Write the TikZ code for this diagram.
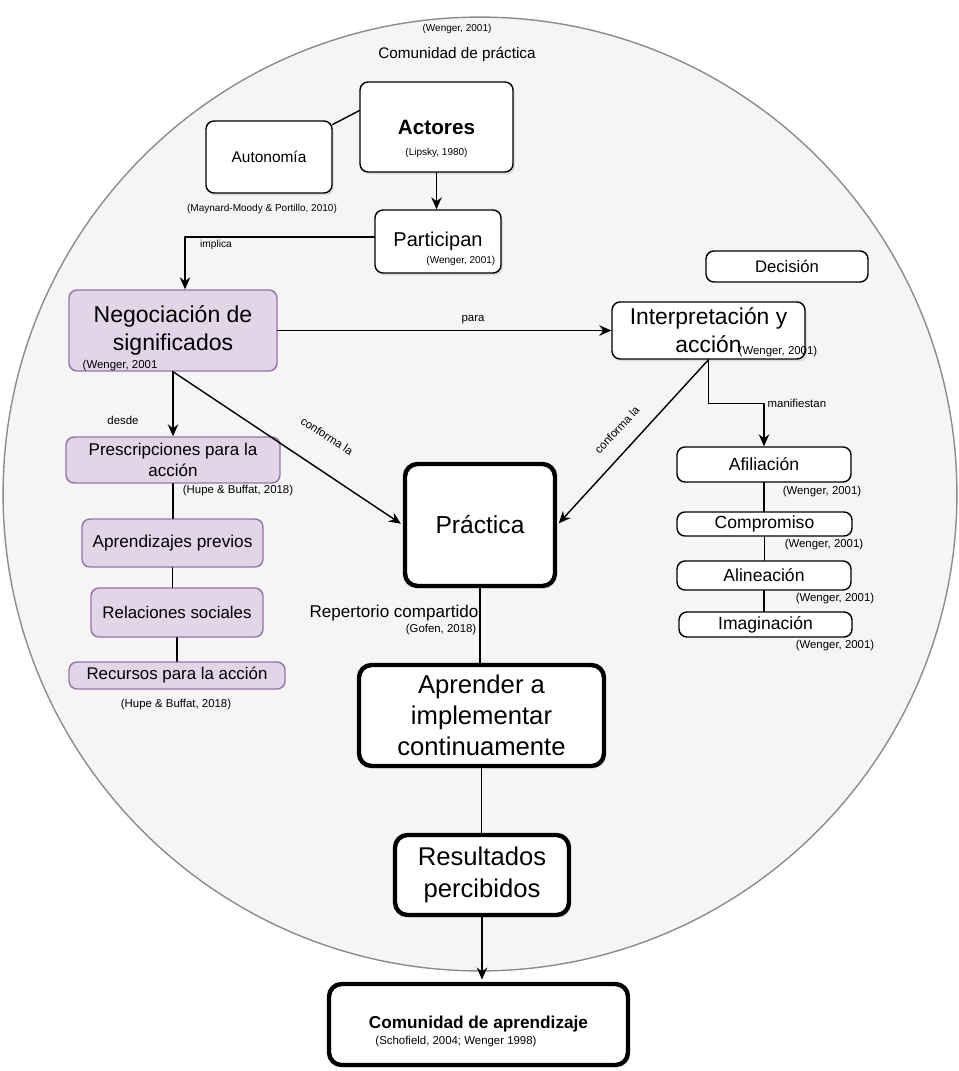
\documentclass[tikz,border=0pt]{standalone}
\usepackage{fontspec}
\setmainfont{Liberation Sans}
\usetikzlibrary{arrows.meta,shadows}
\definecolor{fondo}{HTML}{F5F5F5}
\definecolor{borde}{HTML}{8C8C8C}
\definecolor{filllila}{HTML}{E1D5E7}
\definecolor{bordelila}{HTML}{9673A6}

\begin{document}
\begin{tikzpicture}[x=0.02cm, y=-0.02cm, line cap=round, line join=round,
  >={Stealth[length=2.4mm,width=2.1mm]}, line width=0.8pt,
  box/.style={draw, rounded corners=0.16cm, fill=white, align=center, inner sep=1pt},
  shbox/.style={box, drop shadow={opacity=0.2, shadow xshift=0.04cm, shadow yshift=-0.05cm}},
  pbox/.style={box, draw=bordelila, fill=filllila},
  tbox/.style={shbox, line width=2.5pt, rounded corners=0.25cm},
  cite/.style={font=\fontsize{6.5}{8}\selectfont, inner sep=0pt},
  smallcite/.style={font=\fontsize{5.7}{7}\selectfont, inner sep=0pt},
  lbl/.style={font=\fontsize{6.5}{8}\selectfont, inner sep=0pt}]
  \useasboundingbox (0,0) rectangle (958,1071);
  % comunidad de practica
  \draw[draw=borde, fill=fondo] (480,494) circle (9.54cm);
  \node[smallcite] (citcomunidad) at (457,29) {(Wenger, 2001)};
  \node[font=\fontsize{8.7}{10}\selectfont, inner sep=0pt] (comunidad) at (457,54) {Comunidad de práctica};

  % actores
  \node[shbox, minimum width=3.06cm, minimum height=1.8cm, font=\fontsize{11.8}{14}\selectfont\bfseries] (actores) at (436.5,127) {Actores};
  \node[smallcite] (citactores) at (436.5,153) {(Lipsky, 1980)};
  \node[shbox, minimum width=2.52cm, minimum height=1.44cm, font=\fontsize{8.8}{11}\selectfont] (autonomia) at (269,157) {Autonomía};
  \node[smallcite] (citautonomia) at (262,209) {(Maynard-Moody \& Portillo, 2010)};
  \node[shbox, minimum width=2.52cm, minimum height=1.26cm, font=\fontsize{11.4}{14}\selectfont] (participan) at (438,241.5) {Participan};
  \node[smallcite, anchor=east] (citparticipan) at (496,261) {(Wenger, 2001)};
  \node[box, minimum width=3.24cm, minimum height=0.62cm, font=\fontsize{9.5}{11}\selectfont] (decision) at (787,266.5) {Decisión};

  % negociacion e interpretacion
  \node[pbox, minimum width=4.16cm, minimum height=1.62cm, font=\fontsize{13.1}{16}\selectfont] (negociacion) at (173,330.5) {Negociación de\\significados};
  \node[cite, anchor=west] (citnegociacion) at (82,366) {(Wenger, 2001};
  \node[shbox, minimum width=3.86cm, minimum height=1.14cm, font=\fontsize{13}{16}\selectfont] (interpretacion) at (708.5,330.5) {Interpretación y\\acción};
  \node[cite, anchor=west] (citinterpretacion) at (738,352) {(Wenger, 2001)};

  % columna izquierda
  \node[pbox, minimum width=4.28cm, minimum height=0.92cm, font=\fontsize{9.7}{12}\selectfont] (prescripciones) at (173,460) {Prescripciones para la\\acción};
  \node[cite] (citprescripciones) at (238,491) {(Hupe \& Buffat, 2018)};
  \node[pbox, minimum width=3.62cm, minimum height=0.96cm, font=\fontsize{9.8}{12}\selectfont] (aprendizajes) at (172.5,543) {Aprendizajes previos};
  \node[pbox, minimum width=3.44cm, minimum height=0.98cm, font=\fontsize{9.6}{12}\selectfont] (relaciones) at (177,612.5) {Relaciones sociales};
  \node[pbox, minimum width=4.32cm, minimum height=0.54cm, font=\fontsize{9.6}{12}\selectfont] (recursos) at (177,675.5) {Recursos para la acción};
  \node[cite] (citrecursos) at (176,705) {(Hupe \& Buffat, 2018)};

  % columna derecha
  \node[box, minimum width=3.48cm, minimum height=0.7cm, font=\fontsize{10}{12}\selectfont] (afiliacion) at (764,464.5) {Afiliación};
  \node[cite] (citafiliacion) at (822,492) {(Wenger, 2001)};
  \node[box, minimum width=3.5cm, minimum height=0.48cm, font=\fontsize{10}{12}\selectfont] (compromiso) at (764.5,524) {Compromiso};
  \node[cite] (citcompromiso) at (824,545) {(Wenger, 2001)};
  \node[box, minimum width=3.48cm, minimum height=0.58cm, font=\fontsize{10}{12}\selectfont] (alineacion) at (764,575.5) {Alineación};
  \node[cite] (citalineacion) at (835,599) {(Wenger, 2001)};
  \node[box, minimum width=3.46cm, minimum height=0.5cm, font=\fontsize{10}{12}\selectfont] (imaginacion) at (765.5,624.5) {Imaginación};
  \node[cite] (citimaginacion) at (835,646) {(Wenger, 2001)};

  % centro
  \node[tbox, minimum width=3.0cm, minimum height=2.44cm, font=\fontsize{14}{17}\selectfont] (practica) at (480,525) {Práctica};
  \node[font=\fontsize{9.7}{11}\selectfont, inner sep=0pt, anchor=east] (repertorio) at (479,613) {Repertorio compartido};
  \node[cite, anchor=east] (citrepertorio) at (477,630) {(Gofen, 2018)};
  \node[tbox, minimum width=4.9cm, minimum height=2.02cm, font=\fontsize{14.6}{17.6}\selectfont] (aprender) at (481.5,715.5) {Aprender a\\implementar\\continuamente};
  \node[tbox, minimum width=3.48cm, minimum height=1.6cm, font=\fontsize{14.6}{18.2}\selectfont] (resultados) at (482,875) {Resultados\\percibidos};
  \node[tbox, minimum width=5.98cm, minimum height=1.62cm, font=\fontsize{9.8}{11}\selectfont\bfseries] (aprendizaje) at (478.5,1024.5) {Comunidad de aprendizaje};
  \node[cite] (citaprendizaje) at (456,1042) {(Schofield, 2004; Wenger 1998)};

  % conectores
  \draw (autonomia.27) -- (actores.168);
  \draw[->] (actores.south) -- (actores.south |- participan.north);
  \draw[->] (participan.176) -| ([xshift=0.24cm]negociacion.north);
  \node[lbl, font=\fontsize{5.8}{7}\selectfont] (implica) at (216,245) {implica};
  \draw[->] (negociacion.east) -- (interpretacion.west);
  \node[lbl] (para) at (473,320) {para};
  \draw[->] (negociacion.south) -- (prescripciones.north);
  \node[lbl] (desde) at (123,420) {desde};
  \draw[->, shorten >=1.3pt] (negociacion.south) -- (practica.west);
  \node[lbl, rotate=-33] (conformaizq) at (327,436) {conforma la};
  \draw[->, shorten >=1.3pt] (interpretacion.south) -- (practica.east);
  \node[lbl, rotate=47] (conformader) at (617,430) {conforma la};
  \draw[->] (interpretacion.south) -- ++(0,44) -| (afiliacion.north);
  \node[lbl, anchor=west] (manifiestan) at (767,403) {manifiestan};

  \draw (prescripciones.south) -- (prescripciones.south |- aprendizajes.north);
  \draw (aprendizajes.south) -- (aprendizajes.south |- relaciones.north);
  \draw (relaciones.south) -- (relaciones.south |- recursos.north);

  \draw (afiliacion.south) -- (afiliacion.south |- compromiso.north);
  \draw (compromiso.south) -- (compromiso.south |- alineacion.north);
  \draw (alineacion.south) -- (alineacion.south |- imaginacion.north);

  \draw (practica.south) -- (practica.south |- aprender.north);
  \draw (aprender.south) -- (aprender.south |- resultados.north);
  \draw[->, shorten >=1.3pt] (resultados.south) -- (resultados.south |- aprendizaje.north);
\end{tikzpicture}
\end{document}
